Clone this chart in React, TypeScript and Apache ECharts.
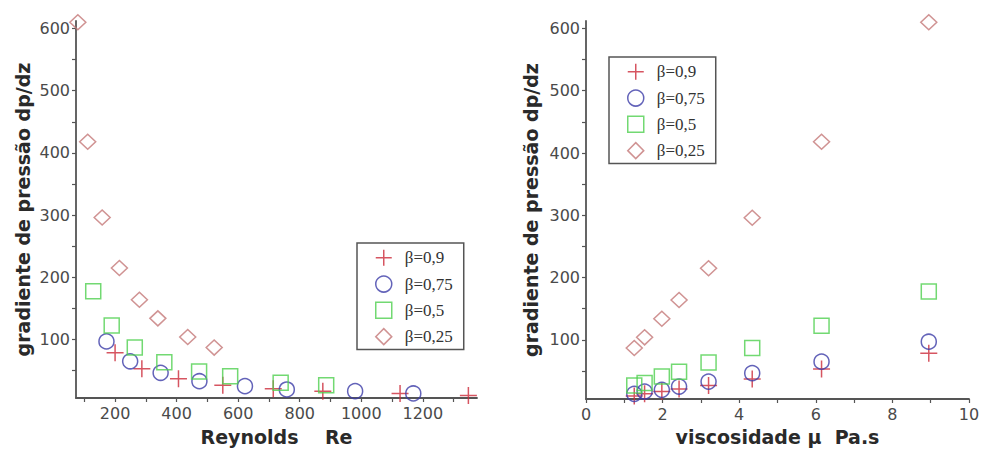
import React, { useEffect, useRef } from "react";
import * as echarts from "echarts";

// viscosity (Pa.s), shared by all series on the right chart
const viscosity = [1.26, 1.53, 1.98, 2.43, 3.2, 4.34, 6.15, 8.95];

// pressure gradient dp/dz per beta
const dp090 = [10, 13.3, 17, 21, 26.6, 37, 53, 78.6];
const dp075 = [13.3, 17, 19.7, 25, 33, 46.5, 65, 97];
const dp050 = [26.6, 30.5, 41, 48.6, 63.6, 87, 122.5, 177.5];
const dp025 = [87, 104, 134, 164, 215, 296, 418, 610];

// Reynolds number per beta (same order as viscosity)
const re090 = [1348, 1126, 875, 714, 550, 406, 287, 200];
const re075 = [1169, 980, 758, 622, 474, 348, 249, 172];
const re050 = [886, 738, 574, 473, 360, 264, 189, 129];
const re025 = [522, 436, 339, 279, 214, 158, 111, 79];

const seriesNames = ["β=0,9", "β=0,75", "β=0,5", "β=0,25"];

const yLabels = [100, 200, 300, 400, 500, 600];
const yTicks = [50, 100, 150, 200, 250, 300, 350, 400, 450, 500, 550, 600];
const reLabels = [200, 400, 600, 800, 1000, 1200];
const reTicks = [100, 200, 300, 400, 500, 600, 700, 800, 900, 1000, 1100, 1200, 1300];
const muLabels = [0, 2, 4, 6, 8, 10];
const muTicks = [0, 1, 2, 3, 4, 5, 6, 7, 8, 9, 10];

const colors = ["#cc2a3a", "#3c3ca8", "#4fcf4f", "#c47878"];
const symbols = [
  "path://M0,8 L16,8 M8,0 L8,16",
  "circle",
  "rect",
  "diamond",
];
const sizes = [17, 15, 15, [16, 15]];

export default function App() {
  const ref = useRef<HTMLDivElement>(null);
  useEffect(() => {
    if (!ref.current) return;
    const chart = echarts.init(ref.current, undefined, { renderer: "svg" });
    const tickFont = {
      fontFamily: "DejaVu Sans",
      fontSize: 16,
      color: "#4a4a4a",
      formatter: (v: number) => String(v),
    };
    const nameFont = {
      fontFamily: "DejaVu Sans",
      fontSize: 19,
      fontWeight: "bold" as const,
      color: "#2a2a2a",
    };
    const axisLine = { show: true, lineStyle: { color: "#555", width: 1.8 } };
    const tick = (vals: number[]) => ({
      show: true,
      length: 4,
      customValues: vals,
      lineStyle: { color: "#555", width: 1.2 },
    });
    const dpSets = [dp090, dp075, dp050, dp025];
    const reSets = [re090, re075, re050, re025];
    const series: any[] = [];
    for (let i = 0; i < 4; i++) {
      const style = {
        color: "rgba(0,0,0,0)",
        borderColor: colors[i],
        borderWidth: 1.5,
      };
      series.push({
        type: "scatter",
        name: seriesNames[i],
        xAxisIndex: 0,
        yAxisIndex: 0,
        symbol: symbols[i],
        symbolSize: sizes[i],
        itemStyle: style,
        data: reSets[i].map((r, k) => [r, dpSets[i][k]]),
      });
      series.push({
        type: "scatter",
        name: seriesNames[i],
        xAxisIndex: 1,
        yAxisIndex: 1,
        symbol: symbols[i],
        symbolSize: sizes[i],
        itemStyle: style,
        data: viscosity.map((m, k) => [m, dpSets[i][k]]),
      });
    }
    const legendCommon = {
      orient: "vertical" as const,
      data: seriesNames,
      itemWidth: 16,
      itemHeight: 16,
      itemGap: 8.8,
      padding: [6, 11, 4, 18],
      borderColor: "#555",
      borderWidth: 1.5,
      backgroundColor: "#fff",
      selectedMode: false,
      itemStyle: { borderWidth: 1.5 },
      textStyle: {
        fontFamily: "Liberation Serif",
        fontSize: 17,
        color: "#333",
        lineHeight: 16,
        padding: [0, 0, 0, 8],
      },
    };
    chart.setOption({
      animation: false,
      backgroundColor: "#fff",
      grid: [
        { left: 76, top: 21, width: 401, height: 377, outerBoundsMode: "none" },
        { left: 586, top: 21, width: 383, height: 378, outerBoundsMode: "none" },
      ],
      legend: [
        { ...legendCommon, left: 357, top: 243 },
        { ...legendCommon, left: 609, top: 57 },
      ],
      xAxis: [
        {
          type: "value",
          gridIndex: 0,
          min: 73,
          max: 1376,
          name: "Reynolds    Re",
          nameLocation: "middle",
          nameGap: 29,
          nameTextStyle: nameFont,
          axisLine,
          axisTick: tick(reTicks),
          axisLabel: { ...tickFont, customValues: reLabels, margin: 7 },
          splitLine: { show: false },
        },
        {
          type: "value",
          gridIndex: 1,
          min: 0,
          max: 10,
          name: "viscosidade μ  Pa.s",
          nameLocation: "middle",
          nameGap: 28,
          nameTextStyle: nameFont,
          axisLine,
          axisTick: tick(muTicks),
          axisLabel: { ...tickFont, customValues: muLabels, margin: 7 },
          splitLine: { show: false },
        },
      ],
      yAxis: [
        {
          type: "value",
          gridIndex: 0,
          min: 6,
          max: 612,
          name: "gradiente de pressão dp/dz",
          nameLocation: "middle",
          nameGap: 44,
          nameTextStyle: nameFont,
          axisLine,
          axisTick: tick(yTicks),
          axisLabel: { ...tickFont, customValues: yLabels, margin: 6 },
          splitLine: { show: false },
        },
        {
          type: "value",
          gridIndex: 1,
          min: 5,
          max: 612,
          name: "gradiente de pressão dp/dz",
          nameLocation: "middle",
          nameGap: 46,
          nameTextStyle: nameFont,
          axisLine,
          axisTick: tick(yTicks),
          axisLabel: { ...tickFont, customValues: yLabels, margin: 6 },
          splitLine: { show: false },
        },
      ],
      series,
    });
    return () => chart.dispose();
  }, []);
  return <div ref={ref} style={{ width: 982, height: 451, position: "absolute", left: 0, top: 0 }} />;
}
